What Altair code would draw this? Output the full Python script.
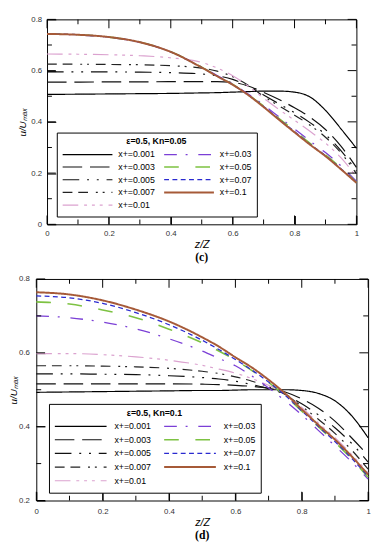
import altair as alt
import pandas as pd

# ---------------- data ----------------
Z = [0.0, 0.1, 0.2, 0.3, 0.4, 0.5, 0.55, 0.6, 0.65, 0.7, 0.75, 0.8, 0.85, 0.9, 0.95, 1.0]

SERIES = ["x+=0.001", "x+=0.003", "x+=0.005", "x+=0.007", "x+=0.01",
          "x+=0.03", "x+=0.05", "x+=0.07", "x+=0.1"]

# panel (c): eps=0.5, Kn=0.05
C_0001 = [0.507, 0.508, 0.509, 0.510, 0.511, 0.513, 0.514, 0.516, 0.518, 0.520, 0.520, 0.516, 0.497, 0.445, 0.373, 0.297]
C_0003 = [0.555, 0.555, 0.556, 0.556, 0.557, 0.557, 0.557, 0.554, 0.540, 0.515, 0.487, 0.455, 0.418, 0.370, 0.305, 0.222]
C_0005 = [0.595, 0.595, 0.595, 0.594, 0.592, 0.587, 0.580, 0.566, 0.540, 0.505, 0.470, 0.436, 0.397, 0.350, 0.288, 0.208]
C_0007 = [0.625, 0.625, 0.624, 0.623, 0.619, 0.610, 0.598, 0.576, 0.543, 0.500, 0.462, 0.426, 0.387, 0.340, 0.279, 0.198]
C_001 = [0.665, 0.664, 0.662, 0.658, 0.650, 0.632, 0.610, 0.580, 0.540, 0.492, 0.448, 0.406, 0.363, 0.317, 0.260, 0.185]
C_003 = [0.742, 0.739, 0.730, 0.710, 0.673, 0.614, 0.581, 0.548, 0.509, 0.466, 0.419, 0.372, 0.325, 0.280, 0.228, 0.168]
C_005 = [0.743, 0.740, 0.731, 0.711, 0.674, 0.613, 0.579, 0.546, 0.506, 0.462, 0.413, 0.365, 0.316, 0.271, 0.220, 0.164]
C_007 = [0.743, 0.740, 0.731, 0.711, 0.673, 0.612, 0.578, 0.545, 0.505, 0.460, 0.410, 0.362, 0.313, 0.268, 0.217, 0.163]
C_01 = [0.743, 0.740, 0.731, 0.711, 0.673, 0.612, 0.578, 0.545, 0.505, 0.458, 0.408, 0.359, 0.311, 0.266, 0.215, 0.162]
C_VALUES = [C_0001, C_0003, C_0005, C_0007, C_001, C_003, C_005, C_007, C_01]

# panel (d): eps=0.5, Kn=0.1
D_0001 = [0.493, 0.494, 0.495, 0.496, 0.497, 0.498, 0.498, 0.499, 0.500, 0.500, 0.500, 0.498, 0.490, 0.470, 0.430, 0.370]
D_0003 = [0.516, 0.516, 0.516, 0.516, 0.516, 0.515, 0.514, 0.512, 0.509, 0.504, 0.494, 0.475, 0.450, 0.415, 0.370, 0.322]
D_0005 = [0.543, 0.543, 0.542, 0.541, 0.538, 0.533, 0.529, 0.523, 0.514, 0.503, 0.487, 0.462, 0.432, 0.397, 0.355, 0.304]
D_0007 = [0.565, 0.565, 0.564, 0.562, 0.558, 0.550, 0.544, 0.535, 0.523, 0.508, 0.487, 0.455, 0.420, 0.382, 0.337, 0.285]
D_001 = [0.598, 0.598, 0.595, 0.589, 0.580, 0.566, 0.556, 0.545, 0.530, 0.512, 0.490, 0.452, 0.410, 0.370, 0.325, 0.275]
D_003 = [0.700, 0.695, 0.683, 0.665, 0.638, 0.605, 0.585, 0.565, 0.537, 0.505, 0.470, 0.432, 0.390, 0.348, 0.305, 0.258]
D_005 = [0.738, 0.732, 0.716, 0.695, 0.664, 0.627, 0.605, 0.580, 0.552, 0.520, 0.484, 0.442, 0.400, 0.358, 0.313, 0.263]
D_007 = [0.754, 0.749, 0.734, 0.709, 0.676, 0.634, 0.609, 0.582, 0.553, 0.521, 0.485, 0.443, 0.401, 0.360, 0.315, 0.265]
D_01 = [0.764, 0.758, 0.742, 0.717, 0.685, 0.642, 0.617, 0.588, 0.560, 0.527, 0.490, 0.447, 0.405, 0.365, 0.320, 0.270]
D_VALUES = [D_0001, D_0003, D_0005, D_0007, D_001, D_003, D_005, D_007, D_01]

X_MAJOR = [0, 0.2, 0.4, 0.6, 0.8, 1.0]
X_MINOR = [0.1, 0.3, 0.5, 0.7, 0.9]
C_Y_MAJOR = [0, 0.2, 0.4, 0.6, 0.8]
C_Y_MINOR = [0.1, 0.3, 0.5, 0.7]
D_Y_MAJOR = [0.2, 0.4, 0.6, 0.8]
D_Y_MINOR = [0.3, 0.5, 0.7]

# ---------------- styles ----------------
COLORS = ["#000000", "#111111", "#111111", "#222222", "#dba2cf",
          "#7b3fd6", "#7dc242", "#2a2ad0", "#a65a38"]
DASHES = [[1, 0], [20, 8], [17, 8, 2, 8, 2, 8], [10, 6, 10, 8, 2, 5, 2, 7],
          [16, 6, 3, 5, 3, 5, 3, 6], [13, 9, 2, 11], [15, 17], [5, 3.5], [1, 0]]
WIDTHS = [1.2, 1.2, 1.2, 1.2, 1.2, 1.3, 1.6, 1.3, 2.0]

FONT = "Liberation Sans"
MAJOR_LEN = 9
MINOR_LEN = 5


def long_table(values):
    rows = []
    for name, ys in zip(SERIES, values):
        for z, u in zip(Z, ys):
            rows.append({"z": z, "u": u, "series": name})
    return pd.DataFrame(rows)


def axis(orient, vals, length, **kw):
    # axis line pulled inside the frame by the tick length -> inward ticks
    return alt.Axis(orient=orient, values=vals, tickSize=length, offset=-length,
                    ticks=True, tickColor="black", tickWidth=1, domain=False,
                    grid=False, minExtent=0, **kw)


def panel(values, y_domain, y_major, y_minor, legend_title, caption, w, h,
          lx, ly, sym, row_h, col_pad, lab_off, y_lab_pad, y_title_pad,
          x_lab_pad, x_title_pad, cap_off):
    data = long_table(values)
    legend = alt.Legend(
        title=legend_title, orient="none", legendX=lx, legendY=ly, columns=2,
        symbolType="stroke", symbolSize=sym * sym, clipHeight=row_h,
        rowPadding=0, columnPadding=col_pad, labelOffset=lab_off,
        labelFont=FONT, labelFontSize=9, labelColor="black",
        titleFont=FONT, titleFontSize=9, titleFontWeight="bold",
        titleColor="black", titleAnchor="middle", titleAlign="center",
        titlePadding=2, padding=5, strokeColor="black", fillColor="white",
    )
    xs = alt.Scale(domain=[0, 1], nice=False, zero=False)
    ys = alt.Scale(domain=y_domain, nice=False, zero=False)
    x_axis = axis("bottom", X_MAJOR, MAJOR_LEN, labels=True, format="~g",
                  labelFlush=False, labelFont=FONT, labelFontSize=8,
                  labelColor="#333333", labelPadding=x_lab_pad, title="z/Z",
                  titleFont=FONT, titleFontSize=11, titleFontStyle="italic",
                  titleFontWeight="normal", titleColor="black",
                  titlePadding=x_title_pad)
    y_axis = axis("left", y_major, MAJOR_LEN, labels=True, format="~g",
                  labelFlush=False, labelFont=FONT, labelFontSize=8,
                  labelColor="#333333", labelPadding=y_lab_pad,
                  title="u/U\u2098\u2090\u2093", titleFont=FONT, titleFontSize=10,
                  titleFontStyle="italic", titleFontWeight="normal",
                  titleColor="black", titlePadding=y_title_pad)
    lines = alt.Chart(data).mark_line(interpolate="monotone").encode(
        x=alt.X("z:Q", scale=xs, axis=x_axis),
        y=alt.Y("u:Q", scale=ys, axis=y_axis),
        color=alt.Color("series:N", legend=legend, scale=alt.Scale(
            domain=SERIES, range=COLORS)),
        strokeDash=alt.StrokeDash("series:N", legend=legend, scale=alt.Scale(
            domain=SERIES, range=DASHES)),
        strokeWidth=alt.StrokeWidth("series:N", legend=legend, scale=alt.Scale(
            type="ordinal", domain=SERIES, range=WIDTHS)),
    )
    layers = [lines]

    # inward tick marks on all four frame sides (drawn as tick marks)
    for vals, L in ((X_MAJOR, MAJOR_LEN), (X_MINOR, MINOR_LEN)):
        d = pd.DataFrame({"z": vals})
        xe = alt.X("z:Q", scale=xs, axis=None)
        layers.append(alt.Chart(d).mark_tick(
            orient="vertical", size=L, thickness=1, color="black", opacity=1,
            yOffset=-L / 2).encode(x=xe, y=alt.value(h)))
        layers.append(alt.Chart(d).mark_tick(
            orient="vertical", size=L, thickness=1, color="black", opacity=1,
            yOffset=L / 2).encode(x=xe, y=alt.value(0)))
    for vals, L in ((y_major, MAJOR_LEN), (y_minor, MINOR_LEN)):
        d = pd.DataFrame({"u": vals})
        ye = alt.Y("u:Q", scale=ys, axis=None)
        layers.append(alt.Chart(d).mark_tick(
            orient="horizontal", size=L, thickness=1, color="black", opacity=1,
            xOffset=L / 2).encode(y=ye, x=alt.value(0)))
        layers.append(alt.Chart(d).mark_tick(
            orient="horizontal", size=L, thickness=1, color="black", opacity=1,
            xOffset=-L / 2).encode(y=ye, x=alt.value(w)))

    return alt.layer(*layers).resolve_axis(x="independent", y="independent").properties(
        width=w, height=h,
        title=alt.Title(caption, orient="bottom", font="Liberation Serif",
                        fontSize=12, fontWeight="bold", color="black",
                        offset=cap_off, anchor="middle"),
    )


top = panel(C_VALUES, [0, 0.8], C_Y_MAJOR, C_Y_MINOR, "\u03b5=0.5, Kn=0.05", "(c)",
            317, 210, 10, 116, 51, 12.6, 8, 5, 5.5, 3.5, 5, 1.5, 3.5)
bottom = panel(D_VALUES, [0.2, 0.8], D_Y_MAJOR, D_Y_MINOR, "\u03b5=0.5, Kn=0.1", "(d)",
               340, 227, 13, 128, 53, 13.5, 12, 7, 7, 0, 7, 1.5, 2.5)

spacer = alt.Chart(pd.DataFrame({"s": [0]})).mark_point(opacity=0).properties(
    width=11, height=210, view=alt.ViewBackground(stroke="transparent"))

indep = dict(color="independent", strokeDash="independent", strokeWidth="independent")

top_row = alt.hconcat(spacer, top, spacing=0, bounds="flush").resolve_scale(
    **indep).resolve_legend(**indep)

chart = alt.vconcat(top_row, bottom, spacing=10).resolve_scale(
    x="independent", y="independent", **indep
).resolve_legend(**indep).properties(padding=0).configure_view(
    stroke="black", strokeWidth=1)

chart.save("out.html", embed_options={"renderer": "svg", "actions": False})
